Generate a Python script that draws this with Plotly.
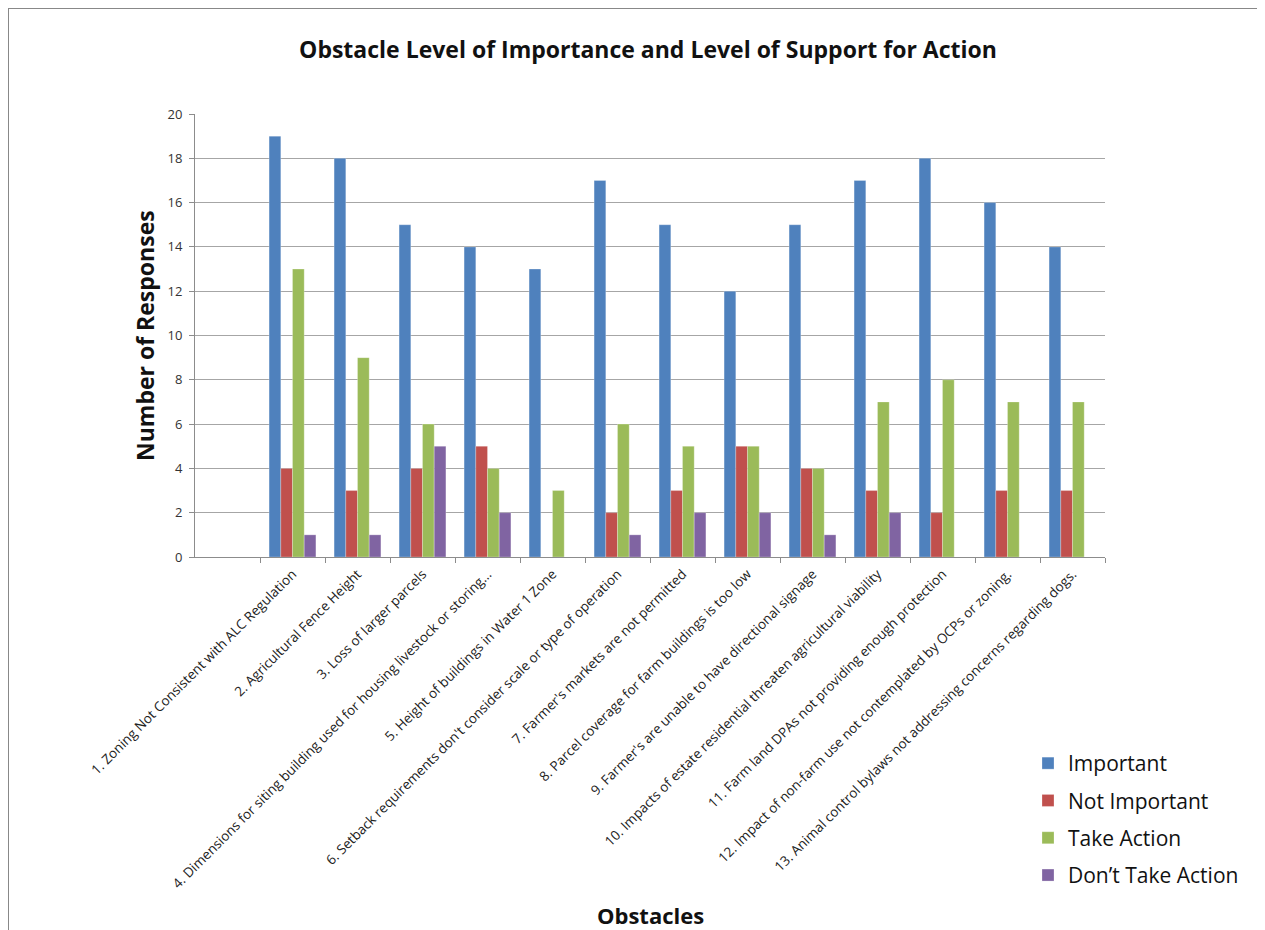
import plotly.graph_objects as go

categories = [
    "1. Zoning Not Consistent with ALC Regulation",
    "2. Agricultural Fence Height",
    "3. Loss of larger parcels",
    "4. Dimensions for siting building used for housing livestock or storing...",
    "5. Height of buildings in Water 1 Zone",
    "6. Setback requirements don't consider scale or type of operation",
    "7. Farmer's markets are not permitted",
    "8. Parcel coverage for farm buildings is too low",
    "9. Farmer's are unable to have directional signage",
    "10. Impacts of estate residential threaten agricultural viability",
    "11. Farm land DPAs not providing enough protection",
    "12. Impact of non-farm use not contemplated by OCPs or zoning.",
    "13. Animal control bylaws not addressing concerns regarding dogs.",
]
important = [19, 18, 15, 14, 13, 17, 15, 12, 15, 17, 18, 16, 14]
not_important = [4, 3, 4, 5, 0, 2, 3, 5, 4, 3, 2, 3, 3]
take_action = [13, 9, 6, 4, 3, 6, 5, 5, 4, 7, 8, 7, 7]
dont_take_action = [1, 1, 5, 2, 0, 1, 2, 2, 1, 2, 0, 0, 0]

series = [
    ("Important", important, "#4F81BD"),
    ("Not Important", not_important, "#C0504D"),
    ("Take Action", take_action, "#9BBB59"),
    ("Don\u2019t Take Action", dont_take_action, "#8064A2"),
]

FONT = "Open Sans"
W, H = 1257, 922          # page body has an 8px margin
L, T, PW, PH = 187, 106, 910, 443

fig = go.Figure()
for i, (name, vals, col) in enumerate(series):
    fig.add_trace(go.Bar(
        x=categories, y=vals, name=name, legendgroup=f"g{i}",
        marker=dict(color=col, line=dict(color="rgba(255,255,255,0.5)", width=0.5)),
    ))

fig.update_layout(
    width=W, height=H,
    paper_bgcolor="white", plot_bgcolor="white",
    margin=dict(l=L, r=W - L - PW, t=T, b=H - T - PH, autoexpand=False),
    barmode="group", bargap=0.28, bargroupgap=0,
    font=dict(family=FONT, color="#222222"),
    title=dict(
        text="<b>Obstacle Level of Importance and Level of Support for Action</b>",
        xref="container", yref="container",
        x=(648 - 8) / W, xanchor="center", y=1 - (50 - 8) / H, yanchor="middle",
        font=dict(family=FONT, size=23, color="#111111"),
    ),
    legend=dict(
        xref="container", yref="container",
        x=(1028 - 8) / W, xanchor="left", y=1 - (743 - 8) / H, yanchor="top",
        font=dict(family=FONT, size=21, color="#111111"),
        itemwidth=30, tracegroupgap=7, bgcolor="rgba(0,0,0,0)",
    ),
    showlegend=True,
)

fig.update_xaxes(
    type="category", range=[-1.5, 12.5],
    tickangle=-45, tickfont=dict(family=FONT, size=13.5, color="#222222"),
    showline=True, linecolor="#8c8c8c", linewidth=1,
    ticks="outside", ticklen=5, tickcolor="#8c8c8c", tickson="boundaries",
    ticklabelstandoff=3,
    showgrid=False, automargin=False,
)
fig.update_yaxes(
    range=[0, 20], dtick=2,
    tickfont=dict(family=FONT, size=13, color="#333333"),
    showline=True, linecolor="#8c8c8c", linewidth=1,
    ticks="outside", ticklen=5, tickcolor="#8c8c8c", ticklabelstandoff=4,
    showgrid=True, gridcolor="#a6a6a6", gridwidth=1,
    zeroline=False, automargin=False,
)

fig.add_annotation(
    text="<b>Number of Responses</b>", textangle=-90,
    xref="paper", yref="paper", x=(145 - 8 - L) / PW, y=(PH - (336 - 8 - T)) / PH,
    xanchor="center", yanchor="middle", showarrow=False,
    font=dict(family=FONT, size=23, color="#111111"),
)
fig.add_annotation(
    text="<b>Obstacles</b>",
    xref="paper", yref="paper", x=(650 - 8 - L) / PW, y=(PH - (915 - 8 - T)) / PH,
    xanchor="center", yanchor="middle", showarrow=False,
    font=dict(family=FONT, size=22, color="#111111"),
)

# outer chart-area border (top and left visible in reference)
top_y = (PH - (0 - T)) / PH
left_x = (0 - L) / PW
fig.add_shape(type="line", xref="paper", yref="paper",
              x0=left_x, x1=(W + 5 - L) / PW, y0=top_y, y1=top_y,
              line=dict(color="#888888", width=2))
fig.add_shape(type="line", xref="paper", yref="paper",
              x0=left_x, x1=left_x, y0=top_y, y1=(PH - (H + 5 - T)) / PH,
              line=dict(color="#888888", width=2))

fig.write_html("out.html")
